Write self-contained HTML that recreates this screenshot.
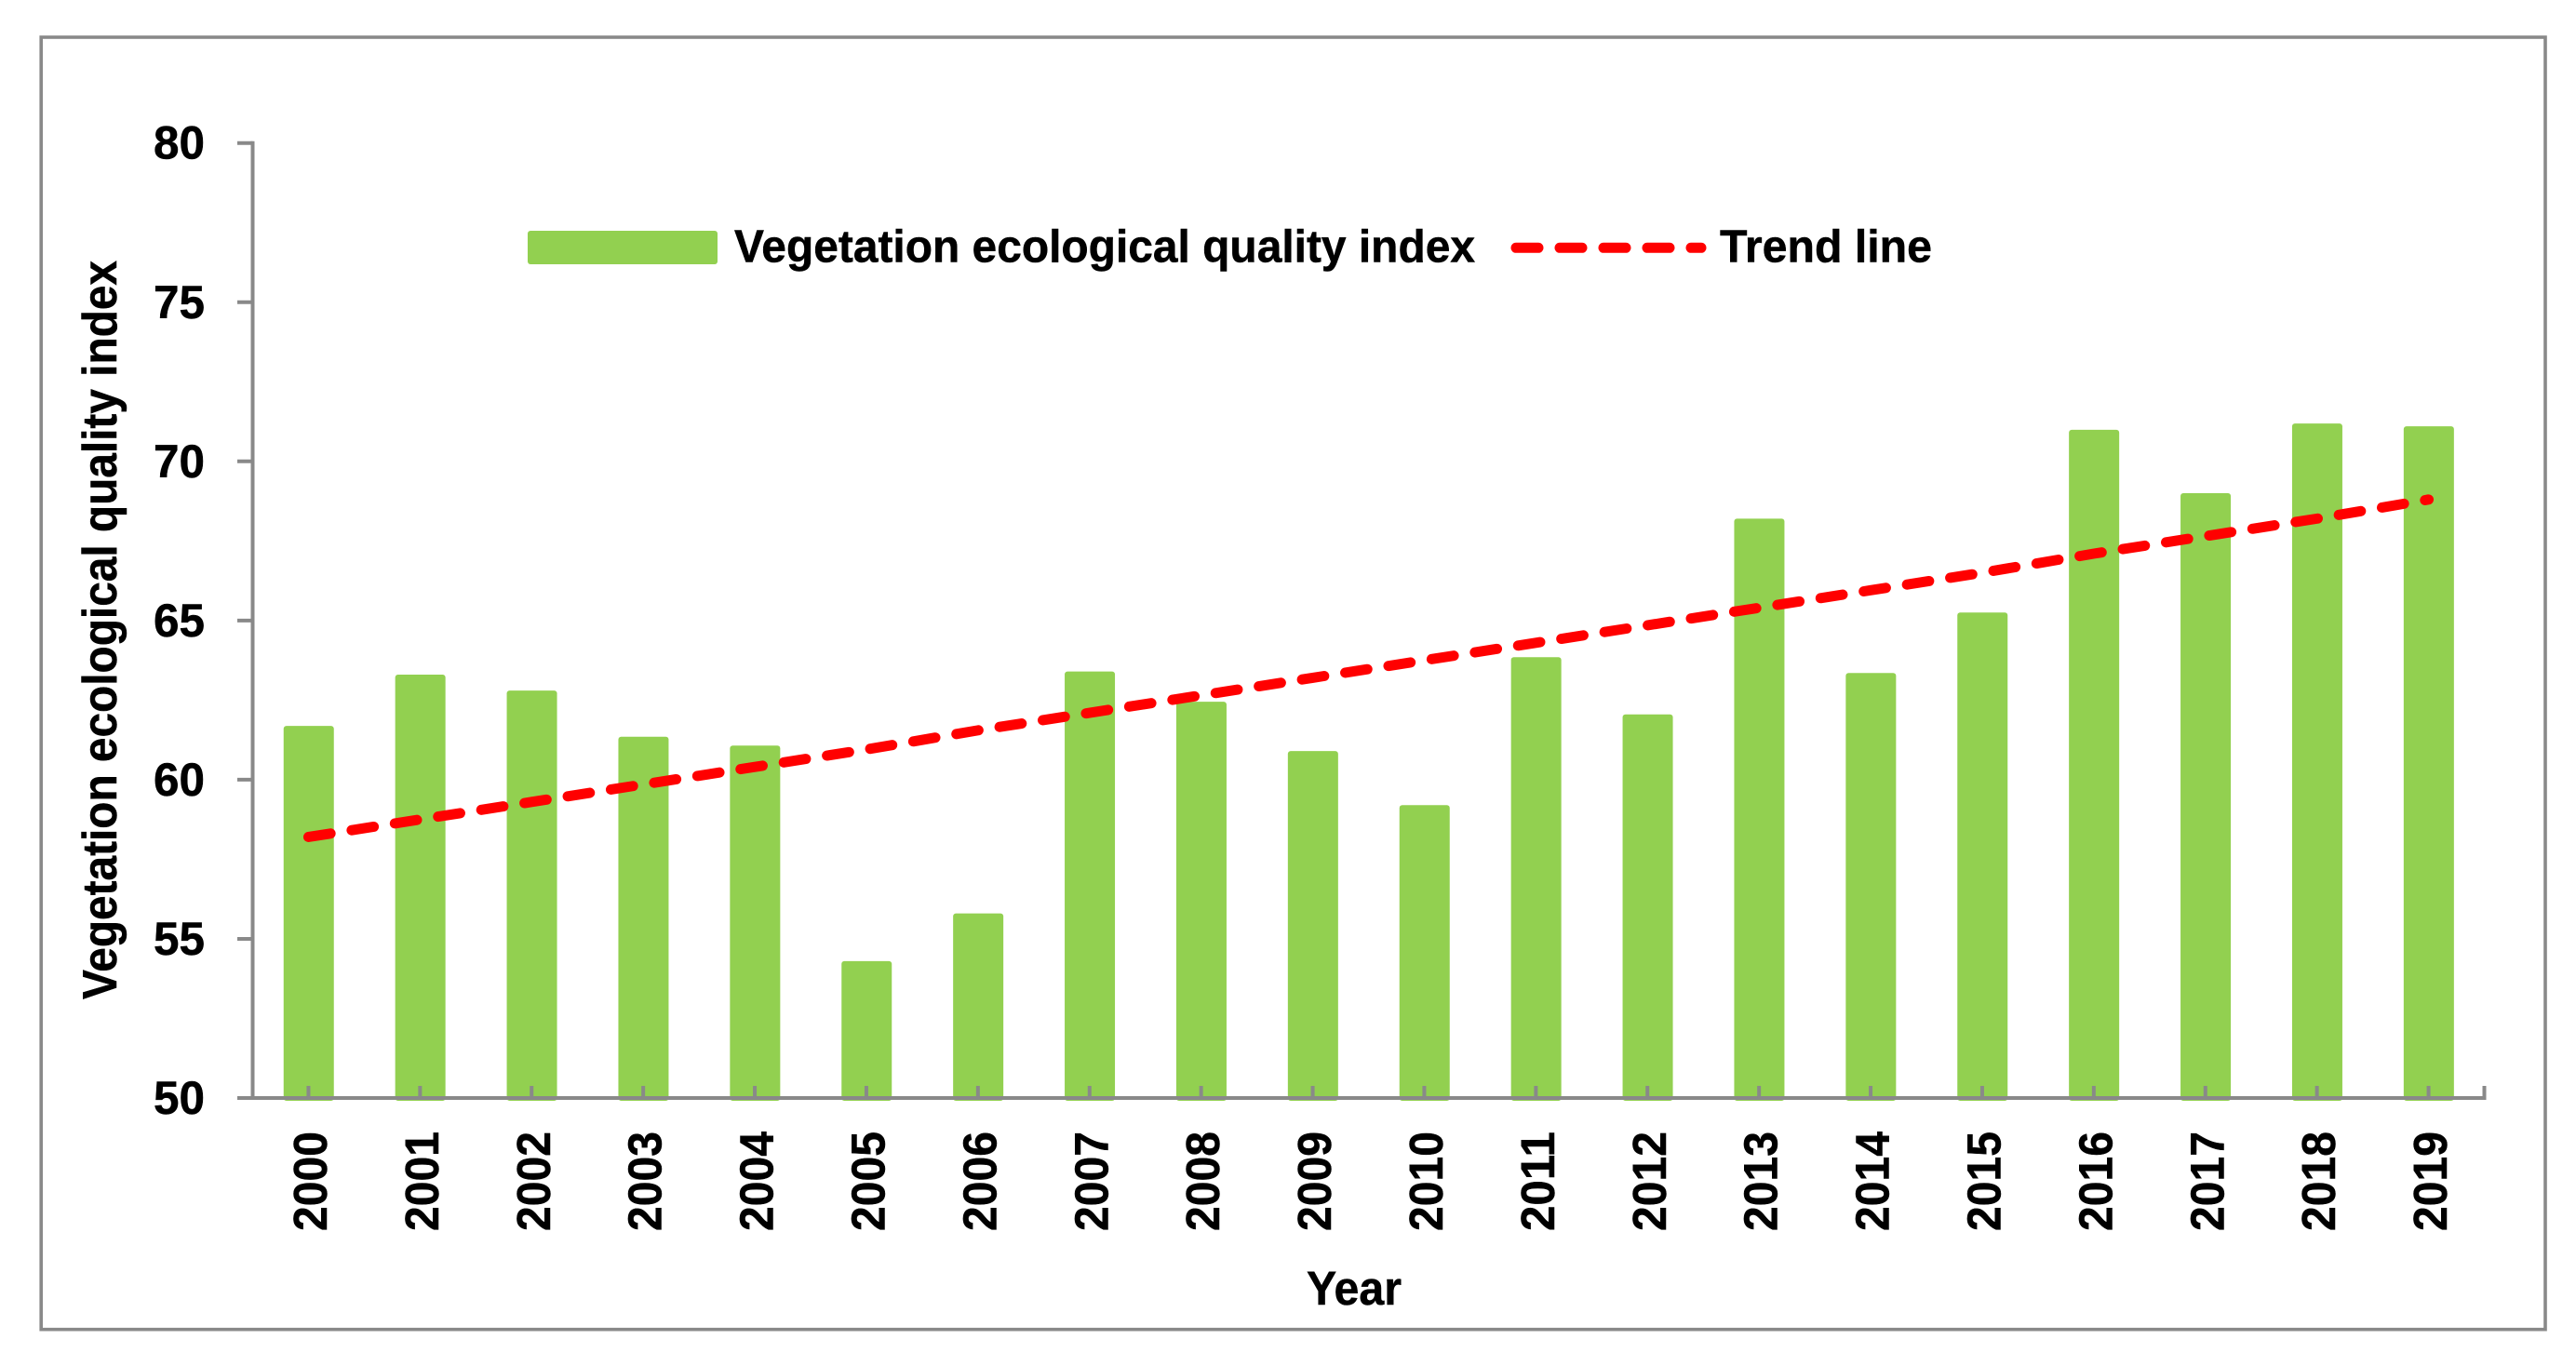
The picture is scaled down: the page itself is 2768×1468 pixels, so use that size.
<!DOCTYPE html>
<html lang="en">
<head>
<meta charset="utf-8">
<title>Vegetation ecological quality index</title>
<style>
  html, body { margin: 0; padding: 0; background: #fff; width: 2768px; height: 1468px; overflow: hidden; }
  svg { display: block; }
  text { font-family: "Liberation Sans", sans-serif; font-weight: 700; fill: #000; stroke: #000; stroke-width: 0.5px; }
</style>
</head>
<body>
<svg id="chart" xmlns="http://www.w3.org/2000/svg" width="2768" height="1468" viewBox="0 0 2768 1468">
  <rect x="0" y="0" width="2768" height="1468" fill="#ffffff"/>
  <rect x="44.2" y="40" width="2690.8" height="1388.7" fill="none" stroke="#898989" stroke-width="3.6"/>
  <g id="bars"></g>
  <g id="axes"></g>
  <g id="trend"></g>
  <g id="ylabels"></g>
  <g id="xlabels"></g>

  <text transform="translate(125,1074) rotate(-90)" font-size="52" textLength="794" lengthAdjust="spacingAndGlyphs">Vegetation ecological quality index</text>
  <text x="1404" y="1402" font-size="51" textLength="102" lengthAdjust="spacingAndGlyphs">Year</text>

  <g>
    <rect x="567" y="248" width="204" height="36" rx="3" fill="#92D050"/>
    <text x="789" y="281.7" font-size="49" textLength="796" lengthAdjust="spacingAndGlyphs">Vegetation ecological quality index</text>
    <line x1="1629" y1="266.3" x2="1828" y2="266.3" stroke="#FF0000" stroke-width="11" stroke-linecap="round" stroke-dasharray="24 23"/>
    <text x="1848" y="281.7" font-size="49" textLength="228" lengthAdjust="spacingAndGlyphs">Trend line</text>
  </g>
</svg>
<script>
const categories = ["2000","2001","2002","2003","2004","2005","2006","2007","2008","2009","2010","2011","2012","2013","2014","2015","2016","2017","2018","2019"];
const barValues = [61.69,63.3,62.8,61.35,61.07,54.3,55.8,63.4,62.45,60.9,59.2,63.85,62.05,68.2,63.35,65.25,70.99,69.0,71.19,71.1];
const trendValues = [58.2,58.75,59.3,59.85,60.4,60.95,61.55,62.1,62.65,63.2,63.75,64.3,64.85,65.4,65.95,66.5,67.1,67.65,68.2,68.8];
const yTicks = [50,55,60,65,70,75,80];

const SVG_NS = "http://www.w3.org/2000/svg";
const plot = { left: 271.5, right: 2669.5, top: 153.7, bottom: 1180, yMin: 50, yMax: 80 };

function xBand() { return (plot.right - plot.left) / categories.length; }
function xScale(i) { return plot.left + xBand() * (i + 0.5); }
function yScale(v) { return plot.bottom - (v - plot.yMin) / (plot.yMax - plot.yMin) * (plot.bottom - plot.top); }
function make(tag, attrs, parent) {
  const el = document.createElementNS(SVG_NS, tag);
  for (const k in attrs) el.setAttribute(k, attrs[k]);
  parent.appendChild(el);
  return el;
}

const barsG = document.getElementById("bars");
const axesG = document.getElementById("axes");
const trendG = document.getElementById("trend");
const yLabelsG = document.getElementById("ylabels");
const xLabelsG = document.getElementById("xlabels");
const AXIS = { stroke: "#898989", "stroke-width": 4 };

barValues.forEach(function (v, i) {
  const y = yScale(v);
  const el = make("rect", { x: xScale(i) - 26.7, y: y, width: 54, height: plot.bottom + 3 - y, rx: 3, fill: "#92D050" }, barsG);
  
  
});

const yAxisLine = make("line", Object.assign({ x1: plot.left, y1: plot.top - 2, x2: plot.left, y2: plot.bottom + 2 }, AXIS), axesG);



const xAxisLine = make("line", Object.assign({ x1: 255, y1: plot.bottom, x2: plot.right + 2, y2: plot.bottom }, AXIS), axesG);



yTicks.forEach(function (t) {
  const y = yScale(t);
  const tick = make("line", Object.assign({ x1: 255, y1: y, x2: plot.left, y2: y }, AXIS), axesG);
  
  
  const label = make("text", { x: 165, y: y + 17, "font-size": 50, textLength: 55, lengthAdjust: "spacingAndGlyphs" }, yLabelsG);
  label.textContent = String(t);
  
  
});

categories.forEach(function (c, i) {
  const x = xScale(i);
  const tick = make("line", Object.assign({ x1: x, y1: 1167, x2: x, y2: plot.bottom }, AXIS), axesG);
  
  
  const label = make("text", { transform: "translate(" + (x + 19.5) + ",1323) rotate(-90)", "font-size": 51, textLength: 107, lengthAdjust: "spacingAndGlyphs" }, xLabelsG);
  label.textContent = c;
  
  
});

const xEndTick = make("line", Object.assign({ x1: plot.right, y1: 1167, x2: plot.right, y2: plot.bottom }, AXIS), axesG);



const trendPath = make("polyline", {
  points: trendValues.map(function (v, i) { return xScale(i) + "," + yScale(v); }).join(" "),
  fill: "none", stroke: "#FF0000", "stroke-width": 11, "stroke-linecap": "round", "stroke-linejoin": "round", "stroke-dasharray": "24 23"
}, trendG);


</script>
</body>
</html>
